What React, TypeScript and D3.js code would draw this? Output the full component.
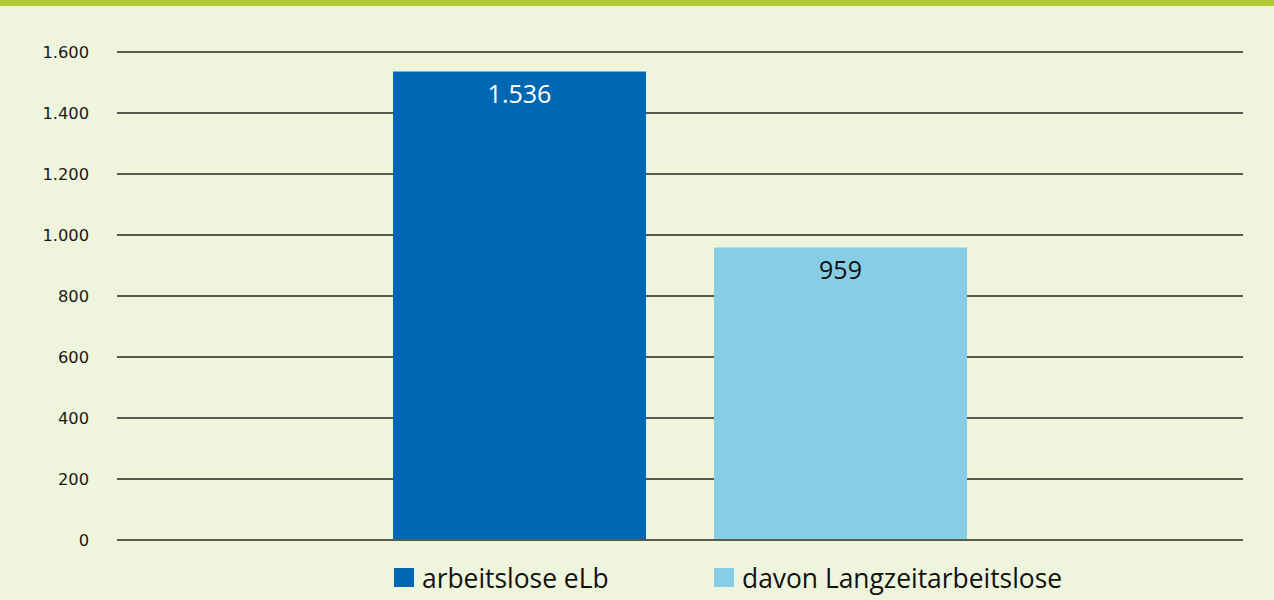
import React from "react";
import * as d3 from "d3";

const categories = ["2023"];
const seriesNames = ["arbeitslose eLb", "davon Langzeitarbeitslose"];
const seriesValues = [1536, 959];
const seriesColors = ["#0068b3", "#87cde5"];
const yTicks = [0, 200, 400, 600, 800, 1000, 1200, 1400, 1600];

const W = 1274;
const H = 600;
const fmt = (v: number) => d3.format(",")(v).replace(/,/g, ".");

export default function App() {
  const left = 117;
  const right = 1243;
  const top = 52;
  const bottom = 540;

  const y = d3.scaleLinear().domain([0, 1600]).range([bottom, top]);
  const x0 = d3
    .scaleBand<string>()
    .domain(categories)
    .range([left, right])
    .paddingInner(0)
    .paddingOuter(0.4808);
  const x1 = d3
    .scaleBand<string>()
    .domain(seriesNames)
    .range([0, x0.bandwidth()])
    .paddingInner(0.2118)
    .paddingOuter(0);

  const legendX = [394, 714];

  return (
    <svg
      width={W}
      height={H}
      style={{ position: "absolute", left: 0, top: 0, display: "block" }}
    >
      <rect x={0} y={0} width={W} height={H} fill="#eff4dc" />
      <rect x={0} y={0} width={W} height={6} fill="#afca36" />
      {yTicks.map((t) => (
        <g key={t}>
          <line
            x1={left}
            x2={right}
            y1={y(t)}
            y2={y(t)}
            stroke="#23261f"
            strokeWidth={t === 0 ? 1.6 : 1.3}
          />
          <text
            x={89}
            y={y(t) + 6}
            textAnchor="end"
            fontFamily="DejaVu Sans, sans-serif"
            fontSize={16.3}
            fill="#1a1a1a"
          >
            {fmt(t)}
          </text>
        </g>
      ))}
      {categories.map((c) => (
        <g key={c} transform={`translate(${x0(c)},0)`}>
          {seriesNames.map((s, i) => {
            const bx = x1(s) as number;
            const by = y(seriesValues[i]);
            return (
              <g key={s}>
                <rect
                  x={bx}
                  y={by}
                  width={x1.bandwidth()}
                  height={bottom - 1 - by}
                  fill={seriesColors[i]}
                />
                <text
                  x={bx + x1.bandwidth() / 2}
                  y={by + 31}
                  textAnchor="middle"
                  fontFamily="Open Sans, sans-serif"
                  fontSize={25}
                  fill={i === 0 ? "#ffffff" : "#111111"}
                >
                  {fmt(seriesValues[i])}
                </text>
              </g>
            );
          })}
        </g>
      ))}
      {seriesNames.map((s, i) => (
        <g key={s}>
          <rect x={legendX[i]} y={568} width={20} height={19} fill={seriesColors[i]} />
          <text
            x={legendX[i] + 28}
            y={588}
            fontFamily="Open Sans, sans-serif"
            fontSize={26.4}
            fill="#111111"
          >
            {s}
          </text>
        </g>
      ))}
    </svg>
  );
}
